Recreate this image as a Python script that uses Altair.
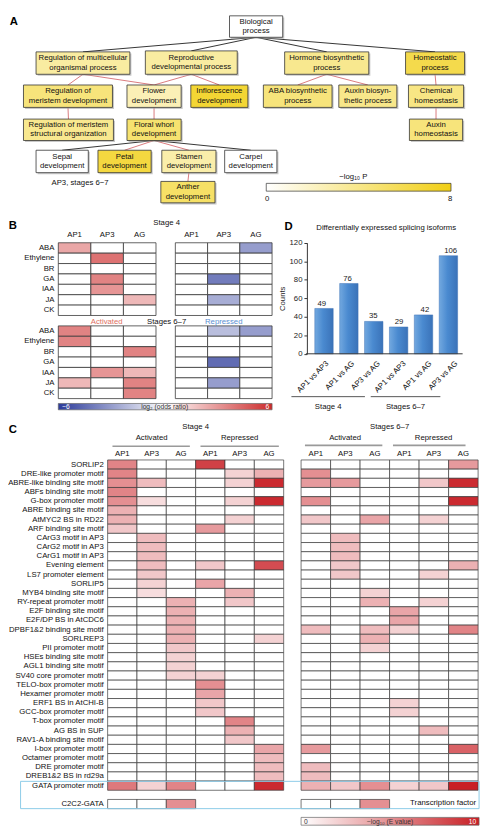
import altair as alt
import pandas as pd

FONT = "Liberation Sans"
W, H = 481, 826


def X(v):
    return v * W / 489.0


def Y(v):
    return v * H / 834.0


FX = alt.Scale(domain=[0, 489], range=[0, W], nice=False, zero=False)
FY = alt.Scale(domain=[0, 834], range=[0, H], nice=False, zero=False)

# ======================= DATA =======================
# ---- Panel A : GO terms (AP3, stages 6-7) ----
GO_IDS = ["bp", "regmulti", "repro", "hormone", "homeo", "regmer", "flower", "inflo",
          "aba", "auxbio", "chem", "regmerstr", "floral", "auxhom", "sepal", "petal",
          "stamen", "carpel", "anther"]
GO_LABELS = ["Biological\nprocess", "Regulation of multicellular\norganismal process",
             "Reproductive\ndevelopmental process", "Hormone biosynthetic\nprocess",
             "Homeostatic\nprocess", "Regulation of\nmeristem development",
             "Flower\ndevelopment", "Inflorescence\ndevelopment", "ABA biosynthetic\nprocess",
             "Auxin biosyn-\nthetic process", "Chemical\nhomeostasis",
             "Regulation of meristem\nstructural organization", "Floral whorl\ndevelopment",
             "Auxin\nhomeostasis", "Sepal\ndevelopment", "Petal\ndevelopment",
             "Stamen\ndevelopment", "Carpel\ndevelopment", "Anther\ndevelopment"]
GO_LOGP = [0, 3.2, 3.2, 3.8, 6.1, 4.5, 2.5, 6.9, 4.5, 4.0, 4.2, 3.8, 4.9, 4.5, 0, 6.5, 2.9, 0, 5.2]
GO_EDGES = [("bp", "regmulti", "tree"), ("bp", "repro", "tree"), ("bp", "hormone", "tree"),
            ("bp", "homeo", "tree"), ("regmulti", "regmer", "enr"), ("regmulti", "flower", "enr"),
            ("repro", "flower", "enr"), ("repro", "inflo", "enr"), ("hormone", "aba", "enr"),
            ("hormone", "auxbio", "enr"), ("homeo", "chem", "enr"), ("regmer", "regmerstr", "enr"),
            ("flower", "floral", "enr"), ("chem", "auxhom", "enr"), ("floral", "sepal", "tree"),
            ("floral", "petal", "enr"), ("floral", "stamen", "enr"), ("floral", "carpel", "tree"),
            ("stamen", "anther", "enr")]
A_PALETTE = ["#ffffff", "#f1cf14"]

# ---- Panel B : hormone enrichment, log2 odds ratio ----
HORMONES = ["ABA", "Ethylene", "BR", "GA", "IAA", "JA", "CK"]
B_GENES = ["AP1", "AP3", "AG"]
B_S4_ACT = [[2.5, 0, 0], [0, 4, 0], [0, 0, 0], [0, 3.5, 0], [0, 3, 0], [0, 0, 2], [0, 0, 0]]
B_S4_REP = [[0, 0, -3], [0, 0, 0], [0, 0, 0], [0, -4, 0], [0, 0, 0], [0, -2.5, 0], [0, 0, 0]]
B_S67_ACT = [[3.5, 0, 0], [3.5, 0, 0], [0, 0, 3.5], [0, 0, 0], [0, 3, 2], [2, 0, 3.5], [0, 0, 3.5]]
B_S67_REP = [[0, -2, -3], [0, 0, 0], [0, 0, 0], [0, -4.5, 0], [0, 0, 0], [0, -3, 0], [0, 0, 0]]
B_PALETTE = ["#2c3b9a", "#ffffff", "#cc2b2b"]

# ---- Panel D : differentially expressed splicing isoforms ----
D_COMPARISONS = ["AP1 vs AP3", "AP1 vs AG", "AP3 vs AG", "AP1 vs AP3", "AP1 vs AG", "AP3 vs AG"]
D_STAGES = ["Stage 4", "Stage 4", "Stage 4", "Stages 6–7", "Stages 6–7", "Stages 6–7"]
D_COUNTS = [49, 76, 35, 29, 42, 106]
D_TICKS = [0, 20, 40, 60, 80, 100, 120]

# ---- Panel C : motif enrichment, -log10(E value) ----
MOTIFS = ["SORLIP2", "DRE-like promoter motif", "ABRE-like binding site motif",
          "ABFs binding site motif", "G-box promoter motif", "ABRE binding site motif",
          "AtMYC2 BS in RD22", "ARF binding site motif", "CArG3 motif in AP3",
          "CArG2 motif in AP3", "CArG1 motif in AP3", "Evening element", "LS7 promoter element",
          "SORLIP5", "MYB4 binding site motif", "RY-repeat promoter motif",
          "E2F binding site motif", "E2F/DP BS in AtCDC6", "DPBF1&2 binding site motif",
          "SORLREP3", "PII promoter motif", "HSEs binding site motif", "AGL1 binding site motif",
          "SV40 core promoter motif", "TELO-box promoter motif", "Hexamer promoter motif",
          "ERF1 BS in AtCHI-B", "GCC-box promoter motif", "T-box promoter motif",
          "AG BS in SUP", "RAV1-A binding site motif", "I-box promoter motif",
          "Octamer promoter motif", "DRE promoter motif", "DREB1&2 BS in rd29a",
          "GATA promoter motif"]
TF_ROWS = ["C2C2-GATA"]
C_COLS = ["A-AP1", "A-AP3", "A-AG", "R-AP1", "R-AP3", "R-AG"]
C_COL_GENES = ["AP1", "AP3", "AG", "AP1", "AP3", "AG"]
C_S4 = [
    [5.5, 0, 0, 8.5, 0, 0], [5.5, 0, 0, 0, 2, 3.5], [5, 3, 0, 0, 2, 9.5], [5.5, 0, 0, 0, 0, 0],
    [5, 1.5, 0, 0, 2, 9.5], [3.5, 0, 0, 0, 0, 0], [3.5, 0, 0, 0, 2, 0], [2.5, 0, 0, 4.5, 0, 0],
    [0, 3, 0, 0, 0, 0], [0, 3, 0, 0, 0, 0], [0, 3, 0, 0, 0, 0], [0, 3, 0, 2.5, 0, 8],
    [0, 2.5, 0, 0, 0, 0], [0, 2, 0, 4, 0, 0], [0, 1.5, 0, 0, 3.5, 0], [0, 0, 3.5, 0, 2.5, 0],
    [0, 0, 3.5, 0, 0, 0], [0, 0, 3.5, 0, 0, 0], [0, 0, 3.5, 0, 0, 0], [0, 0, 3.5, 0, 0, 2],
    [0, 0, 2.5, 0, 0, 0], [0, 0, 2, 0, 0, 0], [0, 0, 2, 0, 0, 0], [0, 0, 2, 2, 0, 0],
    [0, 0, 0, 5, 0, 0], [0, 0, 0, 4, 0, 0], [0, 0, 0, 2.5, 0, 0], [0, 0, 0, 2.5, 0, 0],
    [0, 0, 0, 0, 5.5, 0], [0, 0, 0, 0, 3.5, 0], [0, 0, 0, 0, 2.5, 0], [0, 0, 0, 0, 0, 4],
    [0, 0, 0, 0, 0, 3], [0, 0, 0, 0, 0, 3], [0, 0, 0, 0, 0, 3], [6, 2, 5.5, 0, 0, 9.5]]
C_S67 = [
    [0, 0, 0, 0, 0, 4.5], [5, 0, 0, 0, 0, 0], [4.5, 4.5, 0, 0, 2.5, 9.5], [0, 0, 0, 0, 0, 0],
    [5, 0, 0, 0, 0, 9.5], [0, 0, 0, 0, 0, 0], [2.5, 0, 4, 0, 2, 0], [0, 0, 0, 0, 0, 0],
    [0, 3, 0, 0, 0, 0], [0, 3, 0, 0, 0, 0], [0, 3, 0, 0, 0, 0], [0, 2.5, 0, 0, 0, 3.5],
    [0, 2.5, 0, 0, 2, 0], [0, 0, 0, 0, 0, 0], [0, 0, 2, 0, 0, 0], [0, 0, 3.5, 0, 2, 0],
    [0, 0, 0, 4, 0, 0], [0, 0, 0, 4, 0, 0], [3, 0, 3, 2, 0, 5.5], [0, 0, 3.5, 0, 0, 0],
    [0, 0, 2, 0, 0, 0], [0, 0, 0, 0, 0, 0], [0, 0, 0, 0, 0, 0], [0, 0, 0, 0, 0, 0],
    [0, 0, 0, 0, 0, 0], [0, 0, 0, 0, 0, 0], [0, 0, 0, 2, 0, 0], [0, 0, 0, 2, 0, 0],
    [0, 0, 0, 0, 0, 0], [0, 0, 0, 0, 3, 0], [0, 0, 0, 0, 0, 0], [4.5, 0, 0, 0, 0, 7],
    [0, 0, 0, 0, 0, 0], [3, 0, 0, 0, 0, 0], [3, 0, 0, 0, 0, 0], [3.5, 2.5, 5, 2, 2.5, 10]]
C_TF_S4 = [0, 0, 5]
C_TF_S67 = [0, 0, 5]
C_PALETTE = ["#ffffff", "#c81f25"]

# ======================= LAYOUT (reference pixel units) =======================
BOX = {
    "bp": (229, 1, 284, 23), "regmulti": (29, 38, 126, 61), "repro": (142, 37, 237, 61),
    "hormone": (286, 38, 373, 61), "homeo": (411, 38, 472, 61), "regmer": (16, 72, 108, 95),
    "flower": (123, 72, 179, 95), "inflo": (189, 72, 248, 95), "aba": (264, 72, 335, 95),
    "auxbio": (342, 72, 402, 95), "chem": (414, 72, 471, 95), "regmerstr": (16, 107, 109, 129),
    "floral": (123, 107, 179, 129), "auxhom": (415, 107, 470, 129), "sepal": (29, 139, 83, 162),
    "petal": (93, 139, 148, 162), "stamen": (159, 139, 215, 162), "carpel": (224, 139, 278, 162),
    "anther": (158, 171, 214, 193)}
SHADOW = 1.6
EDGE_COL = {"tree": "#333333", "enr": "#d9797c"}
COLORBARS = {"A": (267, 173, 458, 181), "B": (52, 399, 273, 405.5), "C": (303, 824, 487, 832)}

FIG_TEXT = [  # text, x, y, align, size, color
    ("AP3, stages 6−7", 45, 173, "left", 7.9, "#111111"),
    ("−log₁₀ P", 357, 166, "center", 7.9, "#111111"),
    ("0", 268, 189, "center", 7.9, "#111111"),
    ("8", 457, 189, "center", 7.9, "#111111"),
    ("Stage 4", 164, 214, "center", 7.9, "#111111"),
    ("Activated", 102, 315, "center", 7.9, "#e0705f"),
    ("Stages 6–7", 164, 315, "center", 7.9, "#111111"),
    ("Repressed", 223, 315, "center", 7.9, "#5a8fd2"),
    ("−6", 56, 402.3, "left", 6.8, "#ffffff"),
    ("log₂ (odds ratio)", 162, 402.3, "center", 6.8, "#333333"),
    ("6", 270, 402.3, "right", 6.8, "#ffffff"),
    ("Differentially expressed splicing isoforms", 391, 219, "center", 7.9, "#111111"),
    ("Stage 4", 331, 403, "center", 7.9, "#111111"),
    ("Stages 6–7", 411, 403, "center", 7.9, "#111111"),
    ("Stage 4", 194, 423, "center", 7.9, "#111111"),
    ("Activated", 148.5, 435, "center", 7.9, "#111111"),
    ("Repressed", 239.5, 435, "center", 7.9, "#111111"),
    ("Stages 6–7", 394.5, 423, "center", 7.9, "#111111"),
    ("Activated", 348.5, 435, "center", 7.9, "#111111"),
    ("Repressed", 440, 435, "center", 7.9, "#111111"),
    ("Transcription factor", 484, 809.5, "right", 7.9, "#111111"),
    ("0", 306, 828.3, "left", 6.8, "#333333"),
    ("−log₁₀ (E value)", 395, 828.3, "center", 6.8, "#333333"),
    ("10", 484, 828.3, "right", 6.8, "#ffffff"),
]
PANEL_LETTERS = [("A", 6, 7), ("B", 5, 217), ("C", 5, 426), ("D", 290, 218)]
FIG_RULES = [  # x1, y1, x2, y2, color, width
    (108, 443, 188, 443, "#9a9a9a", 1.6), (199, 443, 280, 443, "#9a9a9a", 1.6),
    (307, 442, 387, 442, "#9a9a9a", 1.6), (398, 442, 473, 442, "#9a9a9a", 1.6),
    (293, 392, 369, 392, "#555555", 1.0), (375, 392, 447, 392, "#555555", 1.0),
    (308, 348, 470, 348, "#333333", 1.0),
]
TF_BOX = (13, 787, 487, 815)


def fx(field):
    return alt.X(field, type="quantitative", scale=FX, axis=None)


def fy(field):
    return alt.Y(field, type="quantitative", scale=FY, axis=None)


def colorbar(key, palette, stroke):
    x1, y1, x2, y2 = COLORBARS[key]
    n = len(palette) - 1
    grad = alt.Gradient(gradient="linear", x1=0, x2=1, y1=0, y2=0, stops=[
        alt.GradientStop(color=c, offset=i / n) for i, c in enumerate(palette)])
    df = pd.DataFrame([dict(x1=x1, y1=y1, x2=x2, y2=y2)])
    return alt.Chart(df).mark_rect(color=grad, stroke=stroke, strokeWidth=0.7).encode(
        x=fx("x1"), x2="x2", y=fy("y1"), y2="y2")


layers = []

# ======================= Panel A =======================
go = pd.DataFrame({"id": GO_IDS, "label": GO_LABELS, "logp": GO_LOGP})
go["x1"] = [BOX[i][0] for i in GO_IDS]
go["y1"] = [BOX[i][1] for i in GO_IDS]
go["x2"] = [BOX[i][2] for i in GO_IDS]
go["y2"] = [BOX[i][3] for i in GO_IDS]
go["cx"] = (go["x1"] + go["x2"]) / 2
go["cy"] = (go["y1"] + go["y2"]) / 2

edges = pd.DataFrame(GO_EDGES, columns=["p", "c", "kind"])
edges["x"] = [(BOX[p][0] + BOX[p][2]) / 2 for p in edges["p"]]
edges["y"] = [BOX[p][3] for p in edges["p"]]
edges["x2"] = [(BOX[c][0] + BOX[c][2]) / 2 for c in edges["c"]]
edges["y2"] = [BOX[c][1] for c in edges["c"]]
edges["col"] = edges["kind"].map(EDGE_COL)

layers.append(alt.Chart(edges).mark_rule(strokeWidth=1.0).encode(
    x=fx("x"), x2="x2", y=fy("y"), y2="y2", color=alt.Color("col:N", scale=None)))

# soft drop shadow behind the term boxes
layers.append(alt.Chart(go).transform_calculate(
    sx1=f"datum.x1 + {SHADOW}", sx2=f"datum.x2 + {SHADOW}",
    sy1=f"datum.y1 + {SHADOW}", sy2=f"datum.y2 + {SHADOW}"
).mark_rect(color="#9a9a9a", opacity=0.55).encode(
    x=fx("sx1:Q"), x2="sx2:Q", y=fy("sy1:Q"), y2="sy2:Q"))

a_scale = alt.Scale(domain=[0, 8], range=A_PALETTE, interpolate="rgb")
layers.append(alt.Chart(go).mark_rect(stroke="#333333", strokeWidth=0.8).encode(
    x=fx("x1"), x2="x2", y=fy("y1"), y2="y2",
    color=alt.Color("logp:Q", scale=a_scale, legend=None)))

layers.append(alt.Chart(go).mark_text(fontSize=7.9, lineBreak="\n", lineHeight=9.5,
                                      baseline="middle", dy=-4.75, color="#111111").encode(
    x=fx("cx"), y=fy("cy"), text="label:N"))
layers.append(colorbar("A", A_PALETTE, "#333333"))

# ======================= Panel B =======================
B_ROWS = [f"s4|{h}" for h in HORMONES] + ["gap"] + [f"s67|{h}" for h in HORMONES]


def b_frame(m4, m67):
    recs = []
    for st, m in (("s4", m4), ("s67", m67)):
        for i, h in enumerate(HORMONES):
            for j, g in enumerate(B_GENES):
                recs.append({"row": f"{st}|{h}", "gene": g, "v": m[i][j]})
    return pd.DataFrame(recs)


b_y = alt.Scale(domain=B_ROWS, range=[Y(234), Y(394)], paddingInner=0, paddingOuter=0)
b_x_act = alt.Scale(domain=B_GENES, range=[X(52), X(153)], paddingInner=0, paddingOuter=0)
b_x_rep = alt.Scale(domain=B_GENES, range=[X(173), X(273)], paddingInner=0, paddingOuter=0)
b_col = alt.Scale(domain=[-6, 0, 6], range=B_PALETTE, interpolate="rgb")

layers.append(alt.Chart(b_frame(B_S4_ACT, B_S67_ACT)).mark_rect(
    stroke="#3a3a3a", strokeWidth=0.8).encode(
    x=alt.X("gene:N", scale=b_x_act, axis=None),
    y=alt.Y("row:N", scale=b_y, axis=None),
    color=alt.Color("v:Q", scale=b_col, legend=None)))
layers.append(alt.Chart(b_frame(B_S4_REP, B_S67_REP)).mark_rect(
    stroke="#3a3a3a", strokeWidth=0.8).encode(
    x=alt.X("gene:N", scale=b_x_rep, axis=None),
    y=alt.Y("row:N", scale=b_y, axis=None),
    color=alt.Color("v:Q", scale=b_col, legend=None)))

b_lab = pd.DataFrame({"row": [r for r in B_ROWS if r != "gap"],
                      "label": HORMONES + HORMONES})
layers.append(alt.Chart(b_lab).mark_text(fontSize=7.9, align="right", baseline="middle",
                                         color="#111111").encode(
    x=alt.value(X(48)), y=alt.Y("row:N", scale=b_y, axis=None), text="label:N"))
b_head = pd.DataFrame({"gene": B_GENES})
for sc in (b_x_act, b_x_rep):
    layers.append(alt.Chart(b_head).mark_text(fontSize=7.9, baseline="middle",
                                              color="#111111").encode(
        x=alt.X("gene:N", scale=sc, axis=None), y=alt.value(Y(226)), text="gene:N"))
layers.append(colorbar("B", B_PALETTE, "#666666"))

# ======================= Panel D =======================
d_df = pd.DataFrame({"key": [f"{s}: {c}" for s, c in zip(D_STAGES, D_COMPARISONS)],
                     "comp": D_COMPARISONS, "count": D_COUNTS})
d_x = alt.Scale(domain=list(d_df["key"]), range=[X(311), X(471)], paddingInner=0.26,
                paddingOuter=0.24)
d_y = alt.Scale(domain=[0, 120], range=[Y(348), Y(234)], nice=False, zero=True)
bar_fill = alt.Gradient(gradient="linear", x1=0, x2=1, y1=0, y2=0, stops=[
    alt.GradientStop(color="#72a8df", offset=0), alt.GradientStop(color="#4a8ad0", offset=0.45),
    alt.GradientStop(color="#3a72b8", offset=1)])
layers.append(alt.Chart(d_df).mark_bar(color=bar_fill, stroke="#3d72b4", strokeWidth=0.5).encode(
    x=alt.X("key:N", scale=d_x, axis=None),
    y=alt.Y("count:Q", scale=d_y, axis=alt.Axis(
        orient="left", offset=-X(309), values=D_TICKS, tickSize=3, tickColor="#333333",
        domainColor="#333333", labelFontSize=7.9, labelPadding=2, labelColor="#222222",
        title="Counts", titleFontSize=7.9, titleFontWeight="normal", titlePadding=3,
        titleColor="#222222", grid=False, labelFont=FONT, titleFont=FONT))))
layers.append(alt.Chart(d_df).mark_text(fontSize=7.9, baseline="bottom", dy=-1,
                                        color="#222222").encode(
    x=alt.X("key:N", scale=d_x, axis=None), y=alt.Y("count:Q", scale=d_y, axis=None),
    text="count:Q"))
layers.append(alt.Chart(d_df).mark_text(fontSize=7.9, angle=315, align="right",
                                        baseline="middle", dx=4.2, dy=4.2,
                                        color="#111111").encode(
    x=alt.X("key:N", scale=d_x, axis=None), y=alt.value(Y(357)), text="comp:N"))

# ======================= Panel C =======================
C_ROWS = MOTIFS + ["gap"] + TF_ROWS


def c_frame(mat, tf):
    recs = []
    for i, m in enumerate(MOTIFS):
        for j, c in enumerate(C_COLS):
            recs.append({"row": m, "col": c, "v": mat[i][j]})
    for j, c in enumerate(C_COLS[:3]):
        recs.append({"row": TF_ROWS[0], "col": c, "v": tf[j]})
    return pd.DataFrame(recs)


c_y = alt.Scale(domain=C_ROWS, range=[Y(457), Y(815)], paddingInner=0, paddingOuter=0)
c_x4 = alt.Scale(domain=C_COLS, range=[X(103), X(285)], paddingInner=0, paddingOuter=0)
c_x67 = alt.Scale(domain=C_COLS, range=[X(303), X(486)], paddingInner=0, paddingOuter=0)
c_col = alt.Scale(domain=[0, 10], range=C_PALETTE, interpolate="rgb")

for mat, tf, sc in ((C_S4, C_TF_S4, c_x4), (C_S67, C_TF_S67, c_x67)):
    layers.append(alt.Chart(c_frame(mat, tf)).mark_rect(
        stroke="#3a3a3a", strokeWidth=0.7).encode(
        x=alt.X("col:N", scale=sc, axis=None), y=alt.Y("row:N", scale=c_y, axis=None),
        color=alt.Color("v:Q", scale=c_col, legend=None)))

c_lab = pd.DataFrame({"row": MOTIFS + TF_ROWS})
layers.append(alt.Chart(c_lab).mark_text(fontSize=7.9, align="right", baseline="middle",
                                         color="#111111").encode(
    x=alt.value(X(99)), y=alt.Y("row:N", scale=c_y, axis=None), text="row:N"))
c_head = pd.DataFrame({"col": C_COLS, "gene": C_COL_GENES})
for sc in (c_x4, c_x67):
    layers.append(alt.Chart(c_head).mark_text(fontSize=7.9, baseline="middle",
                                              color="#111111").encode(
        x=alt.X("col:N", scale=sc, axis=None), y=alt.value(Y(451)), text="gene:N"))

tfb = pd.DataFrame([dict(x1=TF_BOX[0], y1=TF_BOX[1], x2=TF_BOX[2], y2=TF_BOX[3])])
layers.append(alt.Chart(tfb).mark_rect(fillOpacity=0, stroke="#8ccbe8", strokeWidth=1).encode(
    x=fx("x1"), x2="x2", y=fy("y1"), y2="y2"))
layers.append(colorbar("C", C_PALETTE, "#666666"))

# ======================= figure annotations =======================
rules = pd.DataFrame(FIG_RULES, columns=["x", "y", "x2", "y2", "col", "w"])
layers.append(alt.Chart(rules).mark_rule().encode(
    x=fx("x"), x2="x2", y=fy("y"), y2="y2", color=alt.Color("col:N", scale=None),
    strokeWidth=alt.StrokeWidth("w:Q", scale=None)))

txt = pd.DataFrame(FIG_TEXT, columns=["text", "x", "y", "anchor", "size", "col"])
for al in ("left", "center", "right"):
    sub = txt[txt["anchor"] == al]
    layers.append(alt.Chart(sub).mark_text(align=al, baseline="middle").encode(
        x=fx("x"), y=fy("y"), text="text:N", size=alt.Size("size:Q", scale=None),
        color=alt.Color("col:N", scale=None)))

letters = pd.DataFrame(PANEL_LETTERS, columns=["text", "x", "y"])
layers.append(alt.Chart(letters).mark_text(fontSize=11.5, fontWeight="bold", baseline="middle",
                                           color="#000000").encode(
    x=fx("x"), y=fy("y"), text="text:N"))

chart = alt.layer(*layers).resolve_scale(
    x="independent", y="independent", color="independent"
).properties(width=W, height=H, autosize="none", padding=0).configure(
    font=FONT).configure_view(stroke=None)

chart.save("out.html", embed_options={"renderer": "svg", "actions": False})
